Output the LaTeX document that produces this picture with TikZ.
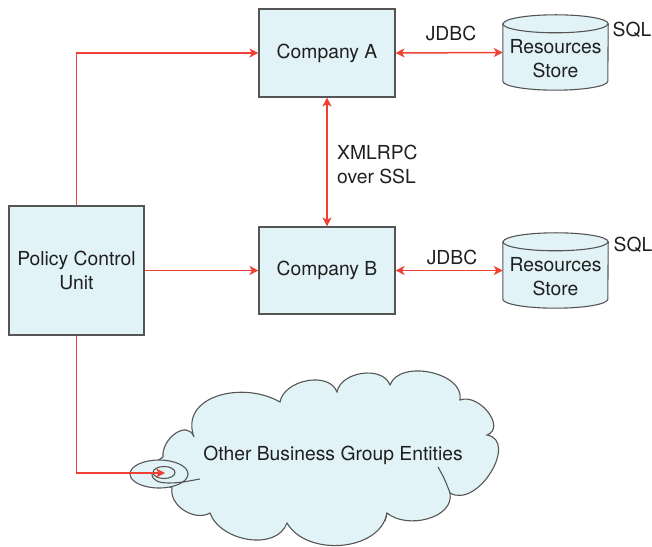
\documentclass[tikz,border=0pt]{standalone}
\usepackage{fontspec}
\setmainfont{TeX Gyre Heros}
\usetikzlibrary{arrows.meta,calc}
\definecolor{boxfill}{HTML}{E1F3F6}
\definecolor{boxline}{HTML}{555555}
\definecolor{linkred}{HTML}{EE4034}
\begin{document}
\begin{tikzpicture}[x=1pt,y=1pt,
  txt/.style={font=\fontsize{19.3}{24}\selectfont, text=black!88},
  unitbox/.style={txt, draw=boxline, line width=1.1pt, fill=boxfill, align=center, inner sep=0pt},
  storebox/.style={txt, inner sep=0pt, minimum width=105pt, minimum height=75pt},
  outline/.style={draw=boxline, line width=1.1pt, fill=boxfill},
  stroke/.style={draw=boxline, line width=1.1pt},
  link/.style={draw=linkred, line width=1.5pt},
  tip/.style={-{Stealth[length=9pt,width=9pt,inset=2.5pt]}},
  both/.style={{Stealth[length=9pt,width=9pt,inset=2.5pt]}-{Stealth[length=9pt,width=9pt,inset=2.5pt]}},
  plain/.style={txt, inner sep=0pt, align=left}]
\useasboundingbox (0,0) rectangle (652,546);

% boxes
\node[unitbox, minimum width=136pt, minimum height=88pt] (ca) at (327,493) {Company A};
\node[unitbox, minimum width=136pt, minimum height=87pt] (cb) at (327,275.5) {Company B};
\node[unitbox, minimum width=135pt, minimum height=129pt] (pcu) at (76.5,275.5) {Policy Control\\Unit};

% resource stores (cylinders)
\node[storebox] (sa) at (555.5,493.5) {};
\node[storebox] (sb) at (555.5,275.5) {};
\foreach \s in {sa,sb}{
  \path[outline] ($(\s.north west)+(0,-9)$) -- ($(\s.south west)+(0,9)$)
     arc[start angle=180,end angle=360,x radius=52.5,y radius=9]
     -- ($(\s.north east)+(0,-9)$)
     arc[start angle=0,end angle=180,x radius=52.5,y radius=9] -- cycle;
  \draw[stroke] ($(\s.north west)+(0,-9)$)
     arc[start angle=180,end angle=360,x radius=52.5,y radius=9];
}
\node[txt, align=center] (sat) at ($(sa.center)+(0,-6.5)$) {Resources\\Store};
\node[txt, align=center] (sbt) at ($(sb.center)+(0,-6.5)$) {Resources\\Store};
\node[plain] (sqla) at (632,516) {SQL};
\node[plain] (sqlb) at (633,301) {SQL};

% cloud of other entities
\path[outline] (163,89)
  to[out=95,in=110,looseness=1.3] (194,109)
  to[out=110,in=150,looseness=1.2] (280,144)
  to[out=80,in=110] (337,154)
  to[out=80,in=110] (390,161)
  to[out=70,in=80] (460,146)
  to[out=20,in=20,looseness=1.2] (487,111)
  to[out=-10,in=-30,looseness=1.2] (450,53)
  to[out=-80,in=-40] (387,33)
  to[out=-100,in=-60] (287,23)
  to[out=-110,in=-70] (210,33)
  to[out=-150,in=-100] (172,58)
  to[out=160,in=200] (163,89);
\draw[stroke] (450,53) to[out=110,in=-60] (438,79);
\draw[stroke] (387,33) -- (385,25);
\node[txt] (other) at (333,91) {Other Business Group Entities};
% swirl at the entry point
\path[outline] (159,72) ellipse[x radius=29, y radius=14];
\draw[stroke] (164,73.5) ellipse[x radius=11, y radius=6];
\draw[stroke] (152,72) to[out=-90,in=180] (168,63) to[out=0,in=190] (200,67);
\coordinate (entry) at (165,73);

% connectors
\draw[link, tip] (pcu.north) |- (ca.west);
\draw[link, tip] (pcu.east) -- (cb.west);
\draw[link, tip] (pcu.south) |- (entry);
\draw[link, both] (ca.south) -- (cb.north);
\draw[link, both] (ca.east) -- (sa.west);
\draw[link, both] (cb.east) -- (sb.west);

% connector labels
\node[plain] (jdbca) at (451,513) {JDBC};
\node[plain] (jdbcb) at (452,289) {JDBC};
\node[plain, anchor=west] (xml) at (337,381.5) {XMLRPC\\over SSL};
\end{tikzpicture}
\end{document}
